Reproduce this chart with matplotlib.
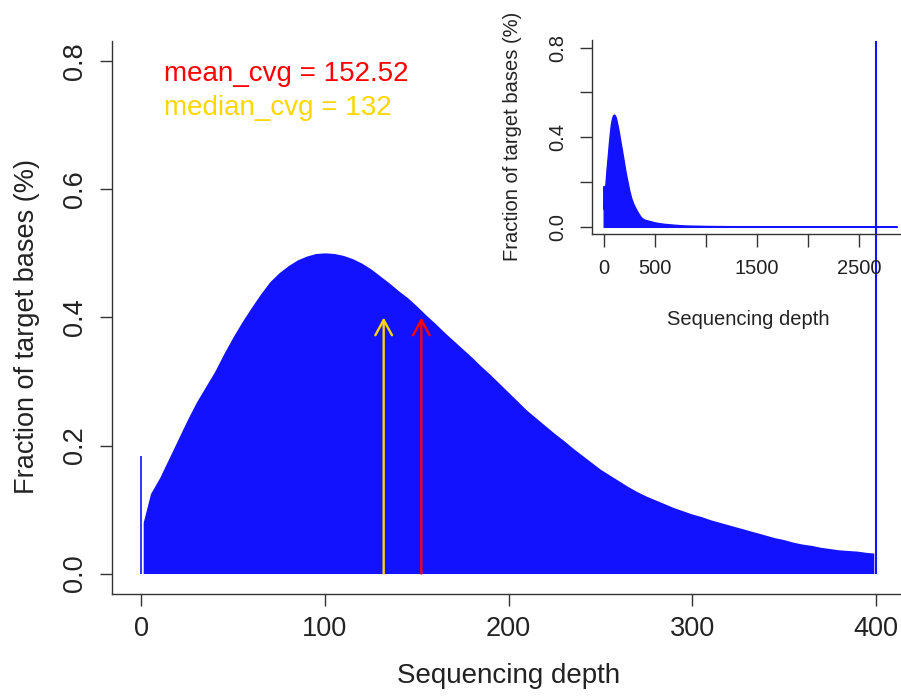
import matplotlib.pyplot as plt

plt.rcParams['font.family'] = ['Liberation Sans', 'DejaVu Sans']

# coverage histogram (depth -> fraction of target bases)
depth = [0, 1] + list(range(5, 400, 5)) + [399]
frac = [0.183, 0.080, 0.125, 0.150, 0.180, 0.210, 0.240, 0.268, 0.292, 0.316,
        0.344, 0.370, 0.394, 0.416, 0.437, 0.456, 0.470, 0.481, 0.490, 0.496,
        0.500, 0.501, 0.500, 0.497, 0.492, 0.485, 0.476, 0.465, 0.454, 0.442,
        0.431, 0.418, 0.404, 0.391, 0.377, 0.364, 0.351, 0.338, 0.324, 0.311,
        0.297, 0.283, 0.269, 0.255, 0.243, 0.231, 0.219, 0.208, 0.196, 0.185,
        0.174, 0.163, 0.154, 0.145, 0.136, 0.128, 0.121, 0.115, 0.109, 0.103,
        0.098, 0.093, 0.089, 0.084, 0.080, 0.076, 0.072, 0.068, 0.064, 0.060,
        0.056, 0.053, 0.049, 0.046, 0.044, 0.041, 0.039, 0.037, 0.036, 0.035,
        0.033, 0.032]

# long tail, only seen in the inset
tail_depth = [450, 500, 550, 600, 650, 700, 800, 900, 1000, 1250, 1500, 2000,
              2500, 2870]
tail_frac = [0.026, 0.020, 0.016, 0.013, 0.011, 0.009, 0.006, 0.005, 0.004,
             0.003, 0.003, 0.002, 0.002, 0.002]

over400 = 1.0  # everything >= 400 piled into the last bin, clipped by ylim
mean_cvg = 152.52
median_cvg = 132

blue = '#1212ff'
ink = '#222222'
W, H = 901, 697

fig = plt.figure(figsize=(W / 100, H / 100), dpi=100)


def px_axes(l, t, r, b):
    return fig.add_axes([l / W, 1 - b / H, (r - l) / W, (b - t) / H])


def r_style(ax, length, size, pad):
    for s in ['top', 'right']:
        ax.spines[s].set_visible(False)
    for s in ['left', 'bottom']:
        ax.spines[s].set_color('#333333')
        ax.spines[s].set_linewidth(1.0)
    ax.tick_params(length=length, width=1.0, color='#333333', labelsize=size,
                   labelcolor=ink, pad=pad)
    for lab in ax.get_yticklabels():
        lab.set_rotation(90)
        lab.set_va('center')


# main plot
ax = px_axes(112, 41, 905, 594)
ax.set_xlim(-16, 416)
ax.set_ylim(-0.032, 0.832)
ax.fill_between(depth[1:], frac[1:], 0, color=blue, lw=0)
ax.vlines(depth[0], 0, frac[0], color=blue, lw=1.2)
ax.vlines(400, 0, over400, color=blue, lw=1.5)

for val, col in [(median_cvg, 'gold'), (mean_cvg, 'red')]:
    ax.annotate('', xy=(val, 0.40), xytext=(val, 0),
                arrowprops=dict(arrowstyle='->,head_length=1.1,head_width=0.6',
                                color=col, lw=1.7, shrinkA=0, shrinkB=0))

ax.text(12.5, 0.78, f'mean_cvg = {mean_cvg}', color='red', fontsize=20,
        ha='left', va='center')
ax.text(12.5, 0.728, f'median_cvg = {median_cvg}', color='gold', fontsize=20,
        ha='left', va='center')

ax.set_xticks([0, 100, 200, 300, 400])
ax.set_yticks([0, 0.2, 0.4, 0.6, 0.8])
ax.set_yticklabels(['0.0', '0.2', '0.4', '0.6', '0.8'])
r_style(ax, 8.6, 19.5, 7)
ax.tick_params(axis='y', pad=9)
ax.set_xlabel('Sequencing depth', fontsize=20, color=ink, va='center')
ax.xaxis.set_label_coords(0.5, -0.148)
ax.set_ylabel('Fraction of target bases (%)', fontsize=19.5, color=ink,
              va='center')
ax.yaxis.set_label_coords(-0.107, 0.483)

# inset with the full depth range
ins = px_axes(592, 40.5, 908, 234)
ins.patch.set_alpha(0)
N = 2865
ins.set_xlim(-0.04 * N, 1.04 * N)
ins.set_ylim(-0.032, 0.832)
ins.fill_between(depth + tail_depth, frac + tail_frac, 0, color=blue,
                 edgecolor=blue, lw=1.0)
ins.set_xticks([0, 500, 1000, 1500, 2000, 2500])
ins.set_xticklabels(['0', '500', '', '1500', '', '2500'])
ins.set_yticks([0, 0.2, 0.4, 0.6, 0.8])
ins.set_yticklabels(['0.0', '', '0.4', '', '0.8'])
r_style(ins, 9, 14.5, 9)
ins.set_xlabel('Sequencing depth', fontsize=14.5, color=ink, va='center')
ins.xaxis.set_label_coords(0.494, -0.44)
ins.set_ylabel('Fraction of target bases (%)', fontsize=14.5, color=ink,
               va='center')
ins.yaxis.set_label_coords(-0.253, 0.503)

fig.savefig('out.png', dpi=100)
